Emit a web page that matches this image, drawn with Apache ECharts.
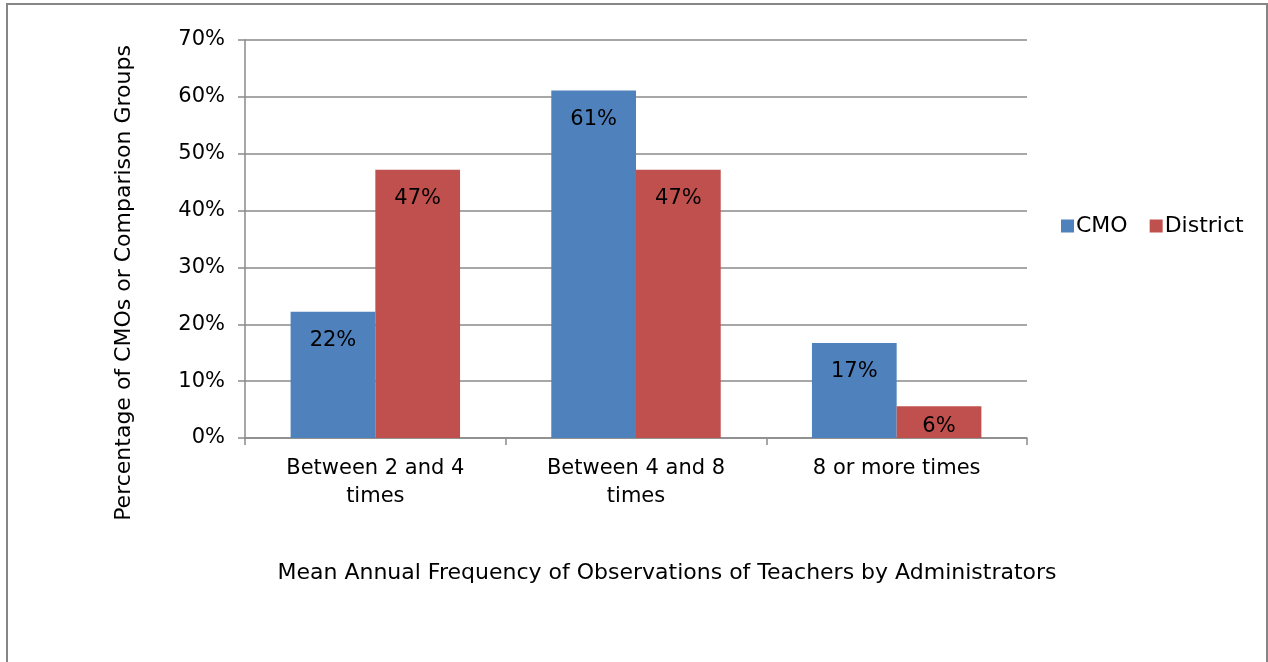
<!DOCTYPE html>
<html>
<head>
<meta charset="utf-8">
<script src="https://cdn.jsdelivr.net/npm/echarts@6/dist/echarts.min.js"></script>
<style>
html,body{margin:0;padding:0;background:#fff;}
#chart{width:1268px;height:662px;}
</style>
</head>
<body>
<div id="chart"></div>
<script>
var categories = ['Between 2 and 4\ntimes', 'Between 4 and 8\ntimes', '8 or more times'];
var cmoValues = [22.2, 61.1, 16.7];
var districtValues = [47.2, 47.2, 5.6];
var seriesNames = ['CMO', 'District'];
var yTicks = [0, 10, 20, 30, 40, 50, 60, 70];
var yTitle = 'Percentage of CMOs or Comparison Groups';
var xTitle = 'Mean Annual Frequency of Observations of Teachers by Administrators';

var FONT = 'DejaVu Sans';
var chart = echarts.init(document.getElementById('chart'), null, {renderer: 'canvas'});
function labelFor(v) {
  return {
    show: true, position: 'insideTop', distance: v < 8 ? 10 : 18,
    fontFamily: FONT, fontSize: 21, color: '#000',
    formatter: function (p) { return Math.round(p.value) + '%'; }
  };
}
function toData(arr) {
  return arr.map(function (v) { return {value: v, label: labelFor(v)}; });
}
var GRID = '#8a8a8a';
chart.setOption({
  animation: false,
  textStyle: {fontFamily: FONT},
  graphic: [
    {type: 'rect', shape: {x: 7, y: 4, width: 1260, height: 700}, style: {fill: 'none', stroke: '#868686', lineWidth: 2}, z: -1},
    {type: 'text', x: 667, y: 573, style: {text: xTitle, fontFamily: FONT, fontSize: 22, fill: '#000', textAlign: 'center', textVerticalAlign: 'middle'}},
    {type: 'text', x: 124, y: 283, rotation: Math.PI / 2, style: {text: yTitle, fontFamily: FONT, fontSize: 22, fill: '#000', textAlign: 'center', textVerticalAlign: 'middle'}}
  ],
  legend: {
    orient: 'horizontal', left: 1056, top: 210,
    itemWidth: 13, itemHeight: 13, itemGap: 22,
    icon: 'rect',
    textStyle: {fontFamily: FONT, fontSize: 22, color: '#000', padding: [0, 0, 0, -3]},
    data: seriesNames
  },
  grid: {left: 245, right: 241, top: 40, bottom: 224, containLabel: false},
  xAxis: {
    type: 'category', data: categories,
    axisLine: {lineStyle: {color: GRID, width: 1.5}},
    axisTick: {show: true, length: 7, lineStyle: {color: GRID, width: 1.5}},
    axisLabel: {fontFamily: FONT, fontSize: 21, color: '#000', margin: 17, lineHeight: 28}
  },
  yAxis: {
    type: 'value', min: 0, max: 70, interval: 10,
    axisLine: {show: true, lineStyle: {color: GRID, width: 1.5}},
    axisTick: {show: true, length: 7, lineStyle: {color: GRID, width: 1.5}},
    splitLine: {lineStyle: {color: GRID, width: 1.5}},
    axisLabel: {fontFamily: FONT, fontSize: 21, color: '#000', margin: 20,
      formatter: function (v) { return yTicks.indexOf(v) >= 0 ? v + '%' : ''; }}
  },
  series: [
    {name: seriesNames[0], type: 'bar', data: toData(cmoValues), barGap: '0%', barCategoryGap: '35%',
     itemStyle: {color: '#4F81BD'}},
    {name: seriesNames[1], type: 'bar', data: toData(districtValues),
     itemStyle: {color: '#C0504D'}}
  ]
});
</script>
</body>
</html>
